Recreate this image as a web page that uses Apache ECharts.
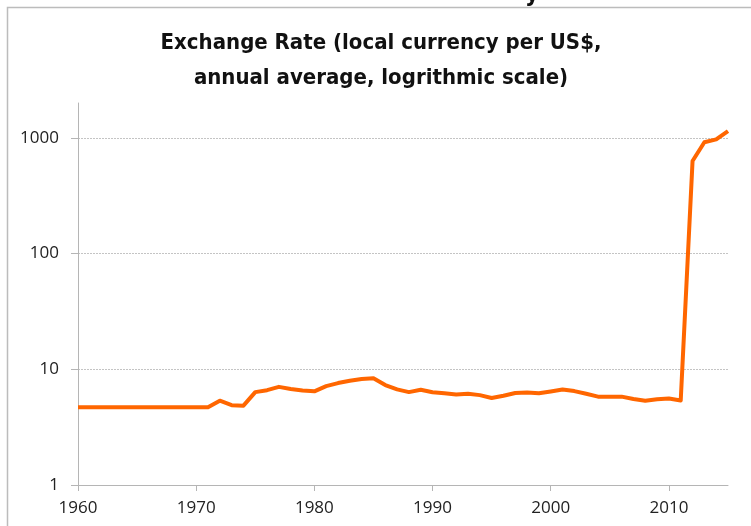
<!DOCTYPE html>
<html lang="en">
<head>
    <meta charset="UTF-8">
    <title>Exchange Rate</title>
    <script src="https://cdn.jsdelivr.net/npm/echarts@6/dist/echarts.min.js"></script>
    <style>
        html, body { margin: 0; padding: 0; background: #fff; }
        #chart { width: 751px; height: 526px; }
    </style>
</head>
<body>
<div id="chart"></div>
<script>
    // years 1960 - 2015
    var years = [];
    for (var y = 1960; y <= 2015; y++) years.push(String(y));

    // local currency per US$
    var rate = [
        4.7, 4.7, 4.7, 4.7, 4.7, 4.7, 4.7, 4.7, 4.7, 4.7,   // 1960-1969
        4.7, 4.7, 5.35, 4.9, 4.85, 6.35, 6.6, 7.05, 6.75, 6.55, // 1970-1979
        6.45, 7.15, 7.6, 7.95, 8.25, 8.35, 7.3, 6.7, 6.35, 6.65, // 1980-1989
        6.33, 6.2, 6.06, 6.14, 5.98, 5.65, 5.9, 6.23, 6.3, 6.2, // 1990-1999
        6.43, 6.7, 6.48, 6.14, 5.8, 5.8, 5.8, 5.53, 5.35, 5.5, // 2000-2009
        5.6, 5.38, 630, 915, 970, 1145                           // 2010-2015
    ];

    var yTicks = [1, 10, 100, 1000];

    var chart = echarts.init(document.getElementById('chart'));
    chart.setOption({
        animation: false,
        backgroundColor: '#fff',
        title: {
            text: 'Exchange Rate (local currency per US$,\nannual average, logrithmic scale)',
            left: 376,
            top: 21,
            textAlign: 'center',
            textStyle: {
                fontFamily: "'Liberation Sans Narrow', 'DejaVu Sans Condensed', sans-serif",
                fontWeight: 'bold',
                fontSize: 22,
                lineHeight: 35,
                color: '#111'
            }
        },
        graphic: [
            {
                type: 'rect',
                silent: true,
                shape: { x: 7.5, y: 7.5, width: 800, height: 600 },
                style: { fill: null, stroke: '#bcbcbc', lineWidth: 1.5 }
            },
            {
                type: 'text',
                silent: true,
                x: 525, y: 7,
                style: {
                    text: 'y', fill: '#111', fontSize: 24, fontWeight: 'bold',
                    fontFamily: "'DejaVu Sans Condensed', sans-serif",
                    verticalAlign: 'bottom'
                }
            }
        ],
        grid: { left: 78, right: 23, top: 103, bottom: 41, containLabel: false },
        xAxis: {
            type: 'category',
            data: years,
            boundaryGap: false,
            axisLine: { lineStyle: { color: '#b5b5b5', width: 1 } },
            axisTick: { interval: 9, length: 6, lineStyle: { color: '#b5b5b5' } },
            axisLabel: {
                interval: 9,
                margin: 15,
                fontFamily: "'Open Sans', sans-serif",
                fontSize: 17,
                color: '#222'
            },
            splitLine: { show: false }
        },
        yAxis: {
            type: 'log',
            logBase: 10,
            min: 1,
            max: 2000,
            axisLine: { show: true, lineStyle: { color: '#b5b5b5', width: 1 } },
            axisTick: { show: true, length: 7, customValues: yTicks, lineStyle: { color: '#b5b5b5' } },
            axisLabel: {
                customValues: yTicks,
                margin: 19,
                fontFamily: "'Open Sans', sans-serif",
                fontSize: 17,
                color: '#222',
                formatter: function (v) { return String(Math.round(v)); }
            },
            splitLine: {
                show: true,
                showMaxLine: true,
                showMinLine: false,
                lineStyle: { color: '#c4c4c4', type: [2, 1], width: 1 }
            },
            minorTick: { show: false },
            minorSplitLine: { show: false }
        },
        series: [
            {
                type: 'line',
                data: rate,
                symbol: 'none',
                lineStyle: { color: '#ff6600', width: 4, join: 'round' }
            }
        ]
    });
</script>
</body>
</html>
